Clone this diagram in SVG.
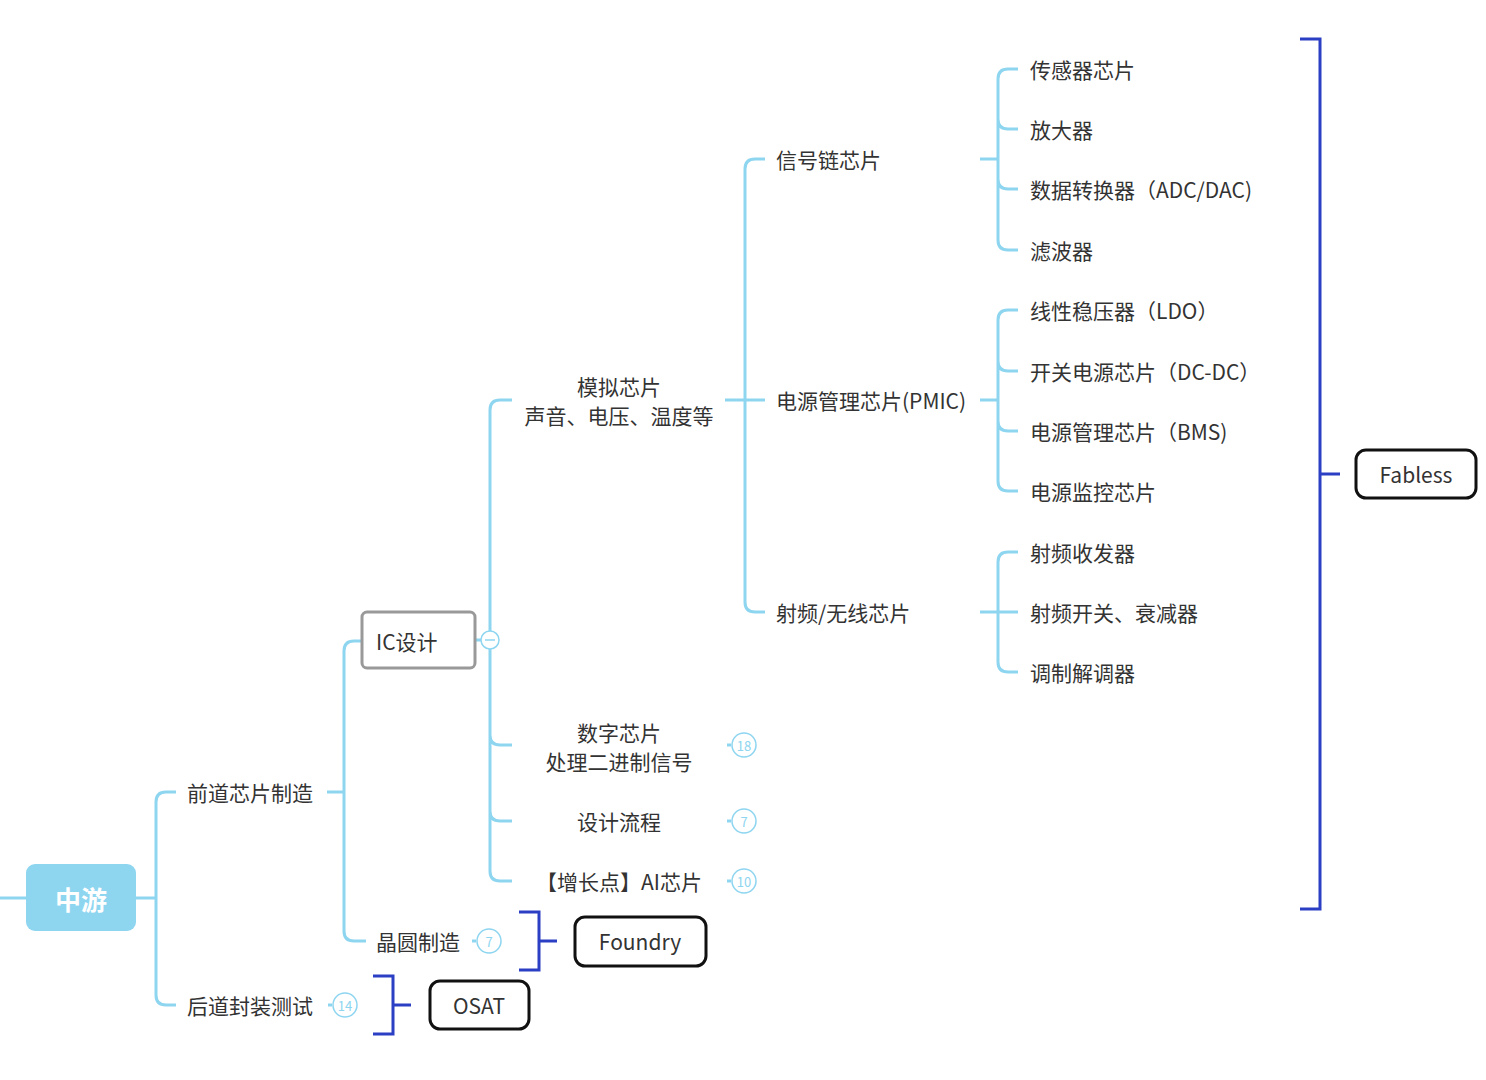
<svg xmlns="http://www.w3.org/2000/svg" width="1486" height="1080" viewBox="0 0 1486 1080">
<style>
.c{fill:none;stroke:#8ed5f0;stroke-width:3}
.b{fill:none;stroke:#2b3fc4;stroke-width:3}
text{font-family:"Noto Sans CJK SC","Noto Sans",sans-serif;font-size:21px;fill:#333;dominant-baseline:central}
.m{text-anchor:middle}
.n{fill:#fff;stroke:#8ed5f0;stroke-width:1.5}
.nt{font-size:13px;fill:#8ed5f0;text-anchor:middle}
.box{fill:#fff;stroke:#111;stroke-width:3}
</style>
<rect width="1486" height="1080" fill="#fff"/>
<g id="connectors">
<path class="c" d="M0 898H26M136 898H156"/>
<path class="c" d="M176 792H166Q156 792 156 802V995Q156 1005 166 1005H176"/>
<path class="c" d="M327 792H344"/>
<path class="c" d="M362 641H354Q344 641 344 651V931Q344 941 354 941H366"/>
<path class="c" d="M475 640H481"/>
<path class="c" d="M512 400H500Q490 400 490 410V871Q490 881 500 881H512M490 735Q490 745 500 745H512M490 811Q490 821 500 821H512"/>
<path class="c" d="M725 400H745M765 159H755Q745 159 745 169V602Q745 612 755 612H765M745 400H765"/>
<path class="c" d="M980 159H998M1018 69H1008Q998 69 998 79V240Q998 250 1008 250H1018M998 129V119Q998 129 1008 129H1018M998 189V179Q998 189 1008 189H1018"/>
<path class="c" d="M980 400H998M1018 310H1008Q998 310 998 320V481Q998 491 1008 491H1018M998 361Q998 371 1008 371H1018M998 421Q998 431 1008 431H1018"/>
<path class="c" d="M980 612H1018M1018 552H1008Q998 552 998 562V662Q998 672 1008 672H1018"/>
<path class="c" d="M727 745H731M727 821H731M727 881H731M472 941H476M328 1005H332"/>
<path class="b" d="M1300 39H1320V909H1300M1320 474H1340"/>
<path class="b" d="M519 912H539V970H519M539 941H557"/>
<path class="b" d="M373 976H393V1034H373M393 1005H411"/>
</g>
<g id="n-zhongyou"><rect x="26" y="864" width="110" height="67" rx="9" fill="#8ed5f0"/><text x="81" y="898" class="m" style="font-size:26px;font-weight:bold;fill:#fff">中游</text></g>
<g id="n-qiandao"><text x="187" y="792">前道芯片制造</text></g>
<g id="n-houdao"><text x="187" y="1005">后道封装测试</text><circle class="n" cx="345" cy="1005" r="12"/><text class="nt" x="345" y="1005">14</text></g>
<g id="n-ic"><rect x="362" y="612" width="113" height="56" rx="5" fill="#fff" stroke="#999" stroke-width="3"/><text x="376" y="641">IC设计</text><circle class="n" cx="490" cy="640" r="9"/><path d="M485 640H495" stroke="#8ed5f0" stroke-width="1.5"/></g>
<g id="n-jingyuan"><text x="376" y="941">晶圆制造</text><circle class="n" cx="489" cy="941" r="12"/><text class="nt" x="489" y="941">7</text></g>
<g id="n-moni"><text x="619" y="386" class="m">模拟芯片</text><text x="619" y="415" class="m">声音、电压、温度等</text></g>
<g id="n-shuzi"><text x="619" y="732" class="m">数字芯片</text><text x="619" y="761" class="m">处理二进制信号</text><circle class="n" cx="744" cy="745" r="12"/><text class="nt" x="744" y="745">18</text></g>
<g id="n-liucheng"><text x="619" y="821" class="m">设计流程</text><circle class="n" cx="744" cy="821" r="12"/><text class="nt" x="744" y="821">7</text></g>
<g id="n-ai"><text x="619" y="881" class="m">【增长点】AI芯片</text><circle class="n" cx="744" cy="881" r="12"/><text class="nt" x="744" y="881">10</text></g>
<g id="n-xinhao"><text x="776" y="159">信号链芯片</text></g>
<g id="n-pmic"><text x="776" y="400">电源管理芯片(PMIC)</text></g>
<g id="n-shepin"><text x="776" y="612">射频/无线芯片</text></g>
<g id="leaves">
<text x="1030" y="69">传感器芯片</text>
<text x="1030" y="129">放大器</text>
<text x="1030" y="189">数据转换器（ADC/DAC)</text>
<text x="1030" y="250">滤波器</text>
<text x="1030" y="310">线性稳压器（LDO）</text>
<text x="1030" y="371">开关电源芯片（DC-DC）</text>
<text x="1030" y="431">电源管理芯片（BMS)</text>
<text x="1030" y="491">电源监控芯片</text>
<text x="1030" y="552">射频收发器</text>
<text x="1030" y="612">射频开关、衰减器</text>
<text x="1030" y="672">调制解调器</text>
</g>
<g id="n-fabless"><rect class="box" x="1356" y="450" width="120" height="48" rx="10"/><text x="1416" y="474" class="m">Fabless</text></g>
<g id="n-foundry"><rect class="box" x="575" y="917" width="131" height="49" rx="10"/><text x="640" y="941" class="m">Foundry</text></g>
<g id="n-osat"><rect class="box" x="430" y="981" width="99" height="48" rx="10"/><text x="479" y="1005" class="m">OSAT</text></g>
</svg>
